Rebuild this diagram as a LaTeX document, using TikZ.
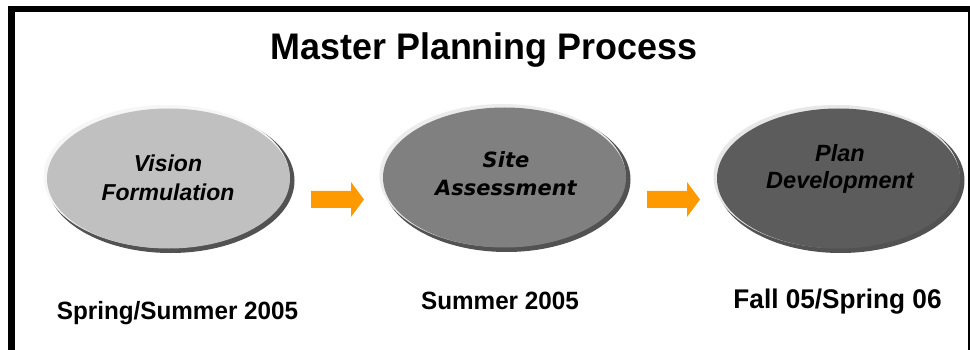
\documentclass[tikz,border=0pt]{standalone}
\usepackage{fontspec}
\setmainfont{Liberation Sans}
\newfontfamily\verdanalike{DejaVu Sans}
\usetikzlibrary{shapes.geometric,calc}
\definecolor{arroworange}{HTML}{FF9900}
\definecolor{ellA}{HTML}{C0C0C0}
\definecolor{ellB}{HTML}{808080}
\definecolor{ellC}{HTML}{5C5C5C}
\tikzset{
  stage/.style={ellipse, minimum width=248pt, minimum height=145pt, inner sep=0pt},
  stagetext/.style={font=\fontsize{23}{29}\selectfont\bfseries\itshape, align=center, text=black},
  datetext/.style={font=\fontsize{25}{30}\selectfont\bfseries, anchor=base},
  blockarrow/.style={fill=arroworange, draw=none}
}
\newcommand{\bevelell}[2]{%
  \fill[black!75, opacity=0.9] ($#1+(2.5,2.5)$) ellipse [x radius=124, y radius=72.5];
  \fill[white!85!#2] ($#1+(-1.5,-1.5)$) ellipse [x radius=123, y radius=71.5];
  \fill[#2] ($#1+(0.5,0.5)$) ellipse [x radius=121.5, y radius=70];
}
\begin{document}
\begin{tikzpicture}[x=1pt,y=-1pt]
\useasboundingbox (0,0) rectangle (970,350);
\fill[white] (0,0) rectangle (970,350);
% frame
\draw[line width=7pt] (11.5,350) -- (11.5,9);
\draw[line width=6pt] (8,9) -- (969,9);
\draw[line width=2pt] (968.5,6) -- (968.5,350);
% title
\node (title) at (484,50) {\fontsize{37}{44}\selectfont\bfseries\scalebox{0.97}[1]{Master Planning Process}};
% ellipses
\bevelell{(168,178)}{ellA}
\bevelell{(504,177)}{ellB}
\bevelell{(838,178)}{ellC}
\node[stage] (vision) at (168,178) {};
\node[stage] (site) at (504,177) {};
\node[stage] (plan) at (838,178) {};
\node[stagetext] (visiont) at (168,178) {Vision\\Formulation};
\node[stagetext, font=\fontsize{21}{28}\selectfont\verdanalike\bfseries\itshape] (sitet) at (506,174) {Site\\Assessment};
\node[stagetext, font=\fontsize{23.5}{27}\selectfont\bfseries\itshape] (plant) at (840,169) {Plan\\Development};
% arrows
\coordinate (a1) at (311,199.5);
\coordinate (a2) at (647,199.5);
\foreach \c in {a1,a2}{
  \fill[blockarrow] ($(\c)+(0,-8.5)$) -- ++(40,0) -- ++(0,-9) -- ++(13,17.5) -- ++(-13,17.5) -- ++(0,-9) -- ++(-40,0) -- cycle;
}
% dates
\node[datetext] (d1) at (177.5,319) {\scalebox{0.97}[1]{Spring/Summer 2005}};
\node[datetext] (d2) at (500,309) {\scalebox{0.97}[1]{Summer 2005}};
\node[datetext, font=\fontsize{27}{32}\selectfont\bfseries] (d3) at (837.5,308) {\scalebox{0.97}[1]{Fall 05/Spring 06}};
\end{tikzpicture}
\end{document}
